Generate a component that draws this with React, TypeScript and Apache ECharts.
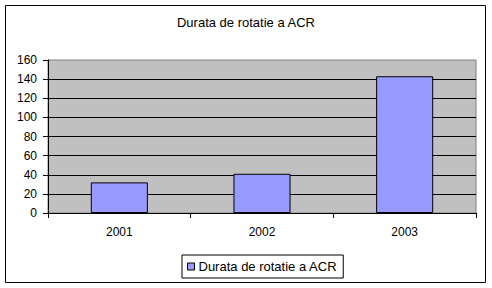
import React, { useEffect, useRef } from "react";
import * as echarts from "echarts";

const title = "Durata de rotatie a ACR";
const categories = ["2001", "2002", "2003"];
const seriesName = "Durata de rotatie a ACR";
const values = [32, 41, 143];
const yMin = 0;
const yMax = 160;
const yInterval = 20;

const FONT = "Arial, 'Liberation Sans', sans-serif";

export default function App() {
  const ref = useRef<HTMLDivElement>(null);
  useEffect(() => {
    if (!ref.current) return;
    const chart = echarts.init(ref.current, null, { renderer: "svg" });
    chart.setOption({
      animation: false,
      backgroundColor: "#ffffff",
      textStyle: { fontFamily: FONT },
      title: {
        text: title,
        left: "center",
        top: 16,
        padding: 0,
        textStyle: { fontFamily: FONT, fontSize: 13, fontWeight: "normal", color: "#000" },
      },
      graphic: [
        {
          type: "rect",
          shape: { x: 5.5, y: 5.5, width: 480, height: 277 },
          style: { fill: "none", stroke: "#000", lineWidth: 1 },
          silent: true,
          z: 100,
        },
      ],
      legend: {
        left: 182,
        top: 255,
        orient: "horizontal",
        padding: [5, 6, 5, 5],
        borderColor: "#000",
        borderWidth: 1,
        itemWidth: 7,
        itemHeight: 7,
        icon: "rect",
        itemStyle: { color: "#9999FF", borderColor: "#000", borderWidth: 1 },
        textStyle: { fontFamily: FONT, fontSize: 13, color: "#000", padding: [0, 0, 0, -1] },
        data: [seriesName],
      },
      grid: {
        left: 48,
        right: 16,
        top: 60,
        bottom: 75,
        show: true,
        backgroundColor: "#C0C0C0",
        borderColor: "#808080",
        borderWidth: 1,
      },
      xAxis: {
        type: "category",
        data: categories,
        boundaryGap: true,
        axisLine: { show: true, lineStyle: { color: "#000", width: 1 } },
        axisTick: { show: true, length: 5, lineStyle: { color: "#000" } },
        axisLabel: { margin: 13, fontFamily: FONT, fontSize: 12, color: "#000" },
      },
      yAxis: {
        type: "value",
        min: yMin,
        max: yMax,
        interval: yInterval,
        axisLine: { show: true, lineStyle: { color: "#000", width: 1 } },
        axisTick: { show: true, length: 5, lineStyle: { color: "#000" } },
        axisLabel: { margin: 11, fontFamily: FONT, fontSize: 12, color: "#000" },
        splitLine: { show: true, showMaxLine: false, lineStyle: { color: "#000", width: 1 } },
      },
      series: [
        {
          name: seriesName,
          type: "bar",
          data: values,
          barWidth: "40%",
          itemStyle: { color: "#9999FF", borderColor: "#000", borderWidth: 1 },
        },
      ],
    });
    return () => chart.dispose();
  }, []);
  return (
    <div
      ref={ref}
      style={{ position: "fixed", left: 0, top: 0, width: 492, height: 288 }}
    />
  );
}
